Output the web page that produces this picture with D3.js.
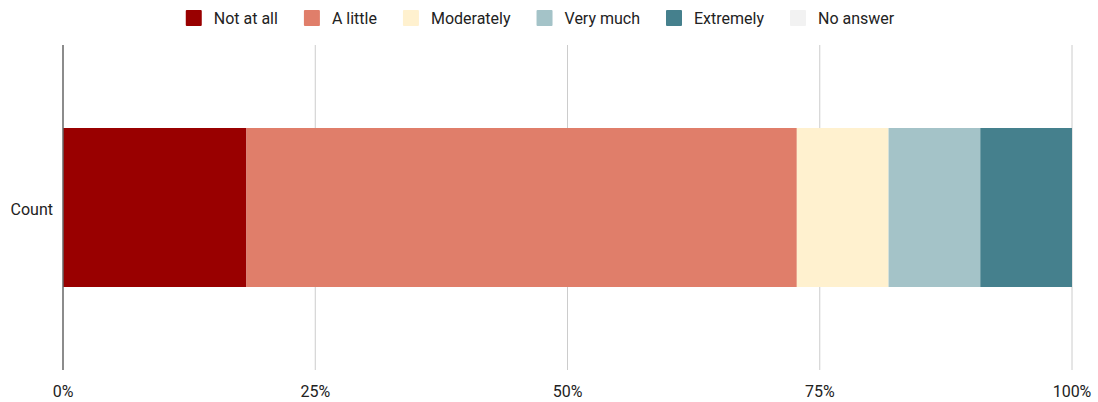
<!DOCTYPE html>
<html>
<head>
<meta charset="utf-8">
<script src="https://cdn.jsdelivr.net/npm/d3@7"></script>
<style>
  body { margin: 0; background: #fff; }
  text { font-family: Roboto, sans-serif; fill: #222; }
</style>
</head>
<body>
<div id="chart"></div>
<script>
// data
let categories = ["Count"];
let answers = ["Not at all", "A little", "Moderately", "Very much", "Extremely", "No answer"];
let counts = [2, 6, 1, 1, 1, 0];
let colors = ["#990000", "#e07e6a", "#fff1cf", "#a4c3c8", "#45808d", "#f2f2f2"];
let tickValues = [0, 0.25, 0.5, 0.75, 1];

let width = 1098, height = 402;
let margin = {top: 45, right: 26, bottom: 32, left: 63};

let svg = d3.select("#chart").append("svg")
    .attr("width", width)
    .attr("height", height);

let x = d3.scaleLinear().domain([0, 1]).range([margin.left, width - margin.right]);
let y = d3.scaleBand().domain(categories)
    .range([margin.top, height - margin.bottom])
    .paddingInner(0.5).paddingOuter(0.261);

// gridlines
svg.selectAll(".grid")
    .data(tickValues.slice(1))
    .enter()
    .append("line")
    .attr("class", "grid")
    .attr("x1", d => x(d)).attr("x2", d => x(d))
    .attr("y1", margin.top).attr("y2", height - margin.bottom)
    .attr("stroke", "#cccccc")
    .attr("stroke-width", 1);

// stacked segments
let total = d3.sum(counts);
let stack = [];
let acc = 0;
counts.forEach((c, i) => {
    stack.push({answer: answers[i], x0: acc / total, x1: (acc + c) / total, color: colors[i]});
    acc += c;
});

svg.selectAll(".seg")
    .data(stack)
    .enter()
    .append("rect")
    .attr("class", "seg")
    .attr("x", d => x(d.x0))
    .attr("width", d => x(d.x1) - x(d.x0))
    .attr("y", y("Count"))
    .attr("height", y.bandwidth())
    .attr("fill", d => d.color);

// left axis line
svg.append("line")
    .attr("x1", x(0)).attr("x2", x(0))
    .attr("y1", margin.top).attr("y2", height - margin.bottom)
    .attr("stroke", "#666")
    .attr("stroke-width", 1.5);

// x tick labels
svg.selectAll(".tick-label")
    .data(tickValues)
    .enter()
    .append("text")
    .attr("class", "tick-label")
    .attr("x", d => x(d))
    .attr("y", 397)
    .attr("text-anchor", "middle")
    .style("font-size", "16px")
    .text(d => d3.format(".0%")(d));

// category label
svg.selectAll(".cat")
    .data(categories)
    .enter()
    .append("text")
    .attr("class", "cat")
    .attr("x", margin.left - 10)
    .attr("y", d => y(d) + y.bandwidth() / 2 + 2)
    .attr("dy", "0.35em")
    .attr("text-anchor", "end")
    .style("font-size", "16px")
    .text(d => d);

// legend
let legend = svg.append("g");
let lx = 0;
answers.forEach((a, i) => {
    let g = legend.append("g").attr("transform", "translate(" + lx + ",0)");
    g.append("rect").attr("x", 0).attr("y", 10).attr("width", 16).attr("height", 16)
        .attr("rx", 1).attr("fill", colors[i]);
    let t = g.append("text").attr("x", 28).attr("y", 18).attr("dy", "0.35em")
        .style("font-size", "16px").text(a);
    lx += 28 + t.node().getComputedTextLength() + 26;
});
let legendWidth = lx - 26;
legend.attr("transform", "translate(" + (540 - legendWidth / 2) + ",0)");
</script>
</body>
</html>
